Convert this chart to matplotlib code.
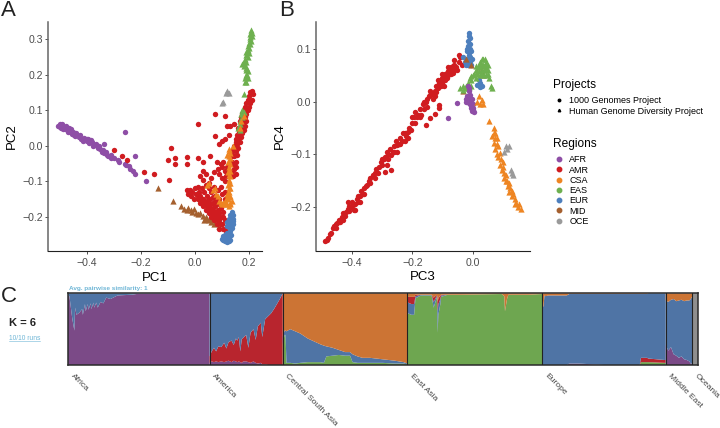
import numpy as np
import matplotlib
matplotlib.use("Agg")
import matplotlib.pyplot as plt
from matplotlib.lines import Line2D

plt.rcParams["font.family"] = ["Liberation Sans", "DejaVu Sans"]

# ---- panel A, PC1 / PC2
AFR_A = [(-.505,.055),(-.50,.062),(-.495,.05),(-.49,.06),(-.485,.052),(-.48,.047),(-.475,.055),(-.47,.04),
         (-.465,.05),(-.46,.04),(-.455,.033),(-.45,.04),(-.445,.028),(-.44,.035),(-.43,.025),(-.425,.03),
         (-.42,.018),(-.41,.022),(-.40,.012),(-.395,.02),(-.39,.008),(-.38,.01),(-.37,.002),(-.365,.005),
         (-.36,-.005),(-.35,-.01),(-.34,-.012),(-.335,-.02),(-.325,-.025),(-.32,-.03),(-.30,-.035),
         (-.285,-.04),(-.26,-.05),(-.255,-.055),(-.245,-.058),(-.24,-.065),(-.23,-.072),(-.22,-.08),
         (-.26,.04),(-.22,-.028),(-.18,-.10),(-.335,.005),(-.31,-.025),(-.28,-.045),(-.5,.052),(-.488,.048),
         (-.472,.048),(-.458,.048),(-.448,.03),(-.435,.03),(-.415,.012),(-.4,.02),(-.385,.015),(-.375,.0),
         (-.355,-.002),(-.345,-.018),(-.33,-.018),(-.31,-.035)]
AMR_A = [(.21,.155),(.205,.15),(.215,.145),(.2,.14),(.21,.13),(.195,.13),(.205,.12),(.19,.12),(.2,.11),
         (.185,.11),(.195,.10),(.18,.10),(.19,.09),(.175,.09),(.185,.08),(.17,.08),(.18,.07),(.19,.07),
         (.165,.07),(.175,.06),(.185,.055),(.17,.05),(.18,.045),(.16,.05),(.175,.035),(.165,.035),(.155,.03),
         (.17,.025),(.16,.02),(.15,.02),(.165,.01),(.155,.005),(.145,0),(.16,-.005),(.15,-.015),(.14,-.015),
         (.155,-.025),(.145,-.03),(.135,-.03),(.15,-.045),(.14,-.05),(.13,-.05),(.145,-.065),(.135,-.07),(.15,-.08),
         (.075,.088),(.11,.083),(.01,.062),(.12,.055),(.13,.055),(.145,.06),(.075,.028),(.125,.03),(.1,.012),
         (.09,.005),(.11,.018),(-.09,-.005),(-.1,-.04),(-.075,-.035),(-.075,-.052),(-.03,-.032),(-.03,-.052),
         (.01,-.035),(.03,-.045),(.055,-.03),(.08,-.047),(.095,-.05),(.105,-.045),(.1,-.06),(.085,-.065),
         (.12,-.06),(.11,-.07),(.03,-.07),(.04,-.08),(.02,-.085),(.07,-.075),(.09,-.08),(.1,-.09),(.06,-.09),
         (.11,-.1),(.03,-.095),(.05,-.105),(-.15,-.08),(-.19,-.075),(-.095,-.095),(-.3,-.012),(-.27,-.028),
         (-.25,-.04),(-.03,-.125),(-.02,-.125),(-.025,-.135),(-.01,-.13),(-.015,-.14),(0,-.12),(.005,-.135),
         (-.005,-.15),(.01,-.115),(.015,-.13),(.01,-.15),(.02,-.14),(.025,-.12),(.02,-.16),(.03,-.15),(.035,-.13),
         (.03,-.17),(.04,-.16),(.045,-.14),(.04,-.18),(.05,-.17),(.055,-.15),(.05,-.19),(.06,-.18),(.065,-.16),
         (.06,-.2),(.07,-.19),(.075,-.17),(.07,-.21),(.08,-.2),(.085,-.18),(.08,-.22),(.09,-.21),(.09,-.19),
         (.09,-.235),(.1,-.22),(.1,-.2),(.105,-.235),(.11,-.21),(.115,-.24),(.12,-.225),(.125,-.25),(.05,-.12),
         (.06,-.13),(.075,-.14),(.09,-.15),(.1,-.165),(.085,-.125),(.095,-.115),(.11,-.13),(.11,-.15),(.1,-.135),
         (.07,-.115),(.04,-.11),(.01,-.14),(.025,-.15),(.035,-.16),(.045,-.17),(.055,-.18),(.065,-.19),(.075,-.2),
         (.085,-.21),(.095,-.22),(.105,-.2),(.085,-.195),(.075,-.185),(.065,-.175),(.055,-.165),(.045,-.155),
         (.095,-.175),(.105,-.185),(.085,-.165),(.075,-.155),(.065,-.145),(.2,.125),(.19,.1),(.18,.085),(.17,.06),
         (.162,.04),(.152,.01),(.142,-.01),(.135,-.045),(.128,-.075),(.14,-.085),(.15,-.06),(.115,-.085)]
CSA_A = [(.125,-.01),(.13,-.02),(.12,-.025),(.128,-.035),(.122,-.045),(.13,-.05),(.125,-.06),(.13,-.07),
         (.122,-.075),(.128,-.085),(.125,-.095),(.13,-.105),(.122,-.11),(.128,-.12),(.125,-.13),(.118,-.135),
         (.13,-.14),(.122,-.15),(.128,-.16),(.118,-.165),(.11,-.155),(.1,-.165),(.105,-.16),(.09,-.155),(.085,-.14),
         (.075,-.12),(.065,-.125),(.05,-.105),(.045,-.11),(.14,.0),(.17,.07),(.165,.05),(.18,.085),(.125,-.015),
         (.125,-.03),(.125,-.042),(.125,-.068),(.125,-.082),(.125,-.105),(.125,-.118),(.125,-.145),(.125,-.17),
         (.112,-.165),(.12,-.145),(.13,-.165),(.135,-.155),(.095,-.16),(.078,-.135)]
EAS_A = [(.208,.32),(.205,.315),(.21,.31),(.205,.3),(.2,.29),(.205,.285),(.2,.275),(.195,.27),(.2,.26),
         (.19,.265),(.19,.255),(.185,.245),(.18,.235),(.175,.23),(.18,.225),(.19,.22),(.195,.21),(.19,.2),
         (.195,.19),(.19,.18),(.185,.19),(.18,.145),(.175,.1),(.17,.09),(.18,.095),(.165,.07),(.165,.045),(.16,.05),
         (.207,.325),(.212,.318),(.202,.305),(.208,.295),(.196,.28),(.195,.25),(.188,.235),(.183,.228),(.187,.212),
         (.192,.215),(.188,.195),(.193,.198),(.185,.18),(.172,.08),(.168,.06)]
EUR_A = [(.135,-.185),(.13,-.195),(.14,-.195),(.125,-.205),(.135,-.21),(.14,-.205),(.12,-.215),(.13,-.22),
         (.14,-.22),(.125,-.228),(.135,-.232),(.13,-.24),(.115,-.248),(.125,-.25),(.105,-.255),(.115,-.258),
         (.125,-.258),(.1,-.262),(.11,-.268),(.12,-.27),(.13,-.265),(.115,-.262),(.13,-.205),(.132,-.228),
         (.12,-.225),(.14,-.212),(.105,-.266),(.125,-.268),(.11,-.25),(.12,-.245),(.132,-.25)]
MID_A = [(-.135,-.12),(-.08,-.155),(-.05,-.17),(-.04,-.178),(-.025,-.175),(-.015,-.182),(-.005,-.178),(.005,-.19),
         (.02,-.19),(.03,-.198),(.04,-.2),(.035,-.208),(.05,-.21),(.06,-.215),(.07,-.22),(.09,-.225),(.055,-.205),
         (-.03,-.18),(-.01,-.185),(.012,-.192),(.045,-.206),(.065,-.21)]
OCE_A = [(.12,.155),(.115,.148),(.125,.148),(.1,.12),(.105,.122),(.12,.15)]

# ---- panel B, PC3 / PC4
AFR_B = [(-.015,.03),(-.012,.02),(-.01,.012),(-.018,.01),(-.008,.005),(-.015,.0),(-.005,.0),(-.01,-.005),
         (.0,-.005),(-.005,-.012),(.003,-.012),(-.002,-.018),(.004,-.02),(-.05,-.002),(-.08,-.032),(-.012,.026),
         (-.02,.005),(-.012,.008),(-.012,-.002),(-.002,.004),(-.006,-.008),(.002,-.016),(-.022,.0)]
AMR_B = [(-.49,-.265),(-.48,-.258),(-.47,-.25),(-.465,-.24),(-.455,-.24),(-.45,-.23),(-.44,-.228),(-.435,-.22),
         (-.425,-.218),(-.42,-.21),(-.41,-.208),(-.405,-.2),(-.4,-.19),(-.395,-.205),(-.39,-.195),(-.385,-.185),
         (-.38,-.19),(-.375,-.18),(-.37,-.17),(-.365,-.175),(-.36,-.165),(-.355,-.16),(-.345,-.15),(-.34,-.155),
         (-.33,-.14),(-.325,-.135),(-.315,-.135),(-.31,-.125),(-.3,-.12),(-.295,-.11),(-.285,-.12),(-.29,-.105),
         (-.28,-.1),(-.275,-.09),(-.265,-.095),(-.26,-.085),(-.255,-.075),(-.245,-.08),(-.24,-.07),(-.235,-.075),
         (-.225,-.06),(-.22,-.065),(-.225,-.075),(-.21,-.05),(-.2,-.04),(-.205,-.055),(-.195,-.03),(-.19,-.04),
         (-.18,-.025),(-.175,-.015),(-.17,-.025),(-.165,-.005),(-.16,-.015),(-.155,0),(-.15,.005),(-.145,.01),
         (-.135,.015),(-.13,.005),(-.125,.02),(-.12,.03),(-.115,.025),(-.11,.035),(-.105,.04),(-.1,.035),(-.095,.05),
         (-.09,.04),(-.085,.055),(-.08,.05),(-.075,.06),(-.07,.065),(-.065,.055),(-.06,.07),(-.055,.065),(-.045,.075),
         (-.04,.085),(-.035,.07),(-.27,-.13),(-.29,-.134),(-.25,-.095),(-.153,-.045),(-.125,-.023),(-.11,-.007),
         (-.11,-.013),(-.142,-.032),(-.485,-.262),(-.475,-.252),(-.46,-.236),(-.445,-.224),(-.43,-.212),(-.415,-.204),
         (-.41,-.198),(-.398,-.196),(-.38,-.18),(-.35,-.158),(-.32,-.128),(-.305,-.115),(-.27,-.102),(-.25,-.083),
         (-.215,-.058),(-.185,-.03),(-.14,.012),(-.12,.018),(-.105,.03),(-.09,.052),(-.1,.045),(-.08,.058),(-.065,.068),
         (-.455,-.232),(-.43,-.225),(-.415,-.19),(-.39,-.205),(-.375,-.19),(-.36,-.175),(-.34,-.145),(-.325,-.145),
         (-.3,-.11),(-.28,-.11),(-.285,-.095),(-.26,-.095),(-.24,-.08),(-.23,-.06),(-.215,-.07),(-.2,-.03),(-.19,-.02),
         (-.175,-.03),(-.16,0),(-.15,-.01),(-.14,.02),(-.125,.01),(-.115,.04),(-.095,.03),(-.1,.052),(-.085,.045),
         (-.08,.065),(-.07,.052),(-.06,.078),(-.05,.06),(-.045,.088),(-.06,.06)]
CSA_B = [(.055,-.037),(.07,-.05),(.075,-.06),(.065,-.065),(.08,-.07),(.07,-.078),(.085,-.085),(.075,-.09),
         (.09,-.098),(.08,-.1),(.095,-.11),(.09,-.12),(.1,-.125),(.105,-.135),(.11,-.14),(.115,-.15),(.12,-.155),
         (.125,-.165),(.13,-.17),(.13,-.18),(.14,-.185),(.145,-.192),(.15,-.2),(.16,-.203),(.015,.0),(.025,-.005),
         (.03,.002),(.02,.01),(.035,-.005),(.07,-.06),(.082,-.08),(.085,-.105),(.1,-.115),(.098,-.13),(.11,-.15),
         (.118,-.16),(.122,-.172),(.135,-.175),(.14,-.195),(.155,-.195),(.075,-.07),(.105,-.145)]
EAS_B = [(.03,.08),(.04,.08),(.045,.075),(.025,.075),(.035,.07),(.05,.07),(.04,.06),(.05,.06),(.02,.065),
         (.01,.06),(.03,.06),(.045,.05),(.0,.05),(.01,.045),(-.005,.04),(-.015,.035),(-.02,.03),(-.03,.03),
         (-.04,.025),(-.015,.025),(-.005,.03),(.06,.03),(.065,.025),(.055,.045),(.02,.07),(.035,.08),(.045,.065),
         (.03,.07),(.04,.068),(.015,.055),(.025,.05),(.005,.052),(-.01,.045),(-.025,.025),(.052,.052),(.01,.068),
         (.03,.052),(.038,.05),(.022,.058),(.012,.052),(-.005,.048),(-.012,.028),(-.03,.022)]
EUR_B = [(-.012,.13),(-.01,.12),(-.015,.115),(-.008,.11),(-.015,.105),(-.01,.1),(-.018,.095),(-.012,.088),
         (-.008,.085),(-.02,.08),(-.01,.075),(-.03,.085),(-.025,.075),(-.005,.07),(-.015,.07),(.02,.04),(.025,.035),
         (.015,.032),(.03,.03),(-.012,.125),(-.018,.1),(-.005,.095),(-.014,.08),(-.002,.08),(-.022,.07),(.025,.028)]
MID_B = [(-.03,.02),(-.005,.07),(.02,.065),(.03,.06),(.035,.05),(-.02,.08)]
OCE_B = [(.11,-.085),(.115,-.09),(.105,-.095),(.12,-.085),(.13,-.135),(.135,-.14),(.128,-.13)]

REGIONS = ["AFR", "AMR", "CSA", "EAS", "EUR", "MID", "OCE"]
COLORS = {"AFR": "#8e4ea6", "AMR": "#d01c20", "CSA": "#ee8522", "EAS": "#6eb04f",
          "EUR": "#4d7fbd", "MID": "#a5602f", "OCE": "#9a9a9a"}
MARKERS = {"AFR": "o", "AMR": "o", "CSA": "^", "EAS": "^", "EUR": "o", "MID": "^", "OCE": "^"}
SIZES = {"o": 15, "^": 20}
DRAW_A = [("OCE", OCE_A), ("MID", MID_A), ("AFR", AFR_A), ("AMR", AMR_A), ("EAS", EAS_A), ("EUR", EUR_A), ("CSA", CSA_A)]
DRAW_B = [("AMR", AMR_B), ("EUR", EUR_B), ("MID", MID_B), ("EAS", EAS_B), ("AFR", AFR_B), ("CSA", CSA_B), ("OCE", OCE_B)]

# ---- panel C, admixture proportions: each region has positions and layer thicknesses, bottom first
PURPLE, BLUE, RED, ORANGE, GREEN, GREY = "#7b4a87", "#4f74a5", "#b8252e", "#cc7434", "#6ea650", "#8f8f8f"
REGION_NAMES = ["Africa", "America", "Central South Asia", "East Asia", "Europe", "Middle East", "Oceania"]
REGION_SIZES = [920, 476, 810, 875, 804, 171, 37]

AFRICA_POS = [0,.01,.03,.045,.05,.06,.08,.1,.105,.12,.125,.14,.145,.16,.165,.18,.185,.2,.21,.23,.25,.27,.3,.35,.45,.5,1]
AFRICA_BLUE = [.03,.04,.35,.52,.2,.3,.27,.22,.3,.15,.25,.15,.23,.14,.22,.13,.2,.13,.2,.12,.14,.06,.08,.03,.02,.005,0]
AFRICA_LAYERS = [([1 - b for b in AFRICA_BLUE], PURPLE), (AFRICA_BLUE, BLUE)]

AMERICA_POS = [0,.03,.06,.09,.12,.16,.2,.23,.26,.3,.33,.36,.38,.4,.42,.44,.46,.5,.53,.56,.6,.63,.66,.7,.72,.76,.8,.84,.88,.92,.96,.99,1]
AMERICA_PURPLE = [.03,.05,.04,.05,.04,.05,.04,.05,.06,.04,.06,.05,.04,.05,.04,.03,.05,.05,.04,.03,.05,.03,.02,.03,.01,.01,0,0,0,0,0,0,0]
AMERICA_RED = [.09,.14,.2,.14,.22,.2,.27,.18,.26,.3,.22,.32,.3,.34,.15,.33,.33,.37,.2,.42,.45,.32,.52,.56,.38,.63,.68,.72,.78,.85,.92,.98,1]
AMERICA_BLUE = [1 - b - c for b, c in zip(AMERICA_PURPLE, AMERICA_RED)]
AMERICA_LAYERS = [(AMERICA_PURPLE, PURPLE), (AMERICA_RED, RED), (AMERICA_BLUE, BLUE)]

CSA_POS = [0,.015,.022,.03,.06,.1,.14,.2,.25,.3,.33,.35,.4,.45,.5,.54,.56,.6,.64,.7,.8,.9,.97,1]
CSA_GREEN = [.3,.42,.42,.03,.03,.02,.03,.04,.04,.04,.03,.12,.13,.14,.13,.13,.04,.03,.03,.03,.03,.02,.02,.01]
CSA_BLUE = [.1,.06,.06,.44,.47,.45,.41,.33,.29,.25,.24,.14,.11,.07,.05,.05,.11,.09,.07,.07,.05,.04,.02,.01]
CSA_ORANGE = [1 - a - b for a, b in zip(CSA_GREEN, CSA_BLUE)]
CSA_LAYERS = [(CSA_GREEN, GREEN), (CSA_BLUE, BLUE), (CSA_ORANGE, ORANGE)]

ASIA_POS = [0,.005,.03,.05,.06,.1,.18,.195,.22,.225,.23,.245,.25,.3,.4,.7,.72,.725,.74,.75,.9,1]
ASIA_GREEN = [.95,.72,.7,.7,.93,.97,.97,.8,.95,.45,.7,.85,.95,.98,.98,.99,.96,.75,.92,.98,.98,.99]
ASIA_BLUE = [.02,.15,.15,.15,.03,.01,.01,.08,.02,.3,.15,.07,.02,0,0,0,0,0,0,0,0,0]
ASIA_RED = [.01,.08,.1,.1,.02,0,0,.06,.01,.13,.08,.05,.01,0,0,0,0,0,0,0,0,0]
ASIA_TOP = [1 - a - b - c for a, b, c in zip(ASIA_GREEN, ASIA_BLUE, ASIA_RED)]
ASIA_LAYERS = [(ASIA_GREEN, GREEN), (ASIA_BLUE, BLUE), (ASIA_RED, RED), (ASIA_TOP, ORANGE)]

EUROPE_POS = [0,.012,.02,.03,.05,.2,.22,.25,.3,.5,.7,.79,.8,.85,.86,.99,1]
EUROPE_GREEN = [0,0,0,0,0,0,0,0,0,0,0,0,.04,.04,.04,.03,.03]
EUROPE_RED = [0,0,0,0,0,0,0,0,0,0,0,0,.06,.06,.05,.04,.04]
EUROPE_PURPLE = [0,0,0,0,0,0,.02,.02,.02,0,0,0,0,0,0,0,0]
EUROPE_ORANGE = [.2,.18,.03,.04,.03,.03,.01,.01,.01,.01,.01,.01,.01,.01,0,0,0]
EUROPE_BLUE = [1 - a - b - c - d for a, b, c, d in zip(EUROPE_GREEN, EUROPE_RED, EUROPE_PURPLE, EUROPE_ORANGE)]
EUROPE_LAYERS = [(EUROPE_GREEN, GREEN), (EUROPE_RED, RED), (EUROPE_PURPLE, PURPLE), (EUROPE_BLUE, BLUE), (EUROPE_ORANGE, ORANGE)]

MIDEAST_POS = [0,.1,.2,.3,.4,.5,.6,.7,.8,.9,.95,1]
MIDEAST_PURPLE = [.28,.2,.25,.15,.13,.1,.12,.08,.07,.05,.02,.02]
MIDEAST_ORANGE = [.1,.12,.09,.08,.11,.1,.09,.11,.1,.1,.08,.05]
MIDEAST_BLUE = [1 - a - b for a, b in zip(MIDEAST_PURPLE, MIDEAST_ORANGE)]
MIDEAST_LAYERS = [(MIDEAST_PURPLE, PURPLE), (MIDEAST_BLUE, BLUE), (MIDEAST_ORANGE, ORANGE)]

OCEANIA_POS = [0, 1]
OCEANIA_LAYERS = [([1, 1], GREY)]

STRUCTURE = [(AFRICA_POS, AFRICA_LAYERS), (AMERICA_POS, AMERICA_LAYERS), (CSA_POS, CSA_LAYERS), (ASIA_POS, ASIA_LAYERS),
             (EUROPE_POS, EUROPE_LAYERS), (MIDEAST_POS, MIDEAST_LAYERS), (OCEANIA_POS, OCEANIA_LAYERS)]

W, H = 720, 428


def px_axes(fig, left, top, right, bottom):
    return fig.add_axes([left / W, 1 - bottom / H, (right - left) / W, (bottom - top) / H])


def scatter_panel(ax, draw, xlim, ylim, xticks, yticks, xlabel, ylabel):
    for region, pts in draw:
        pts = np.array(pts)
        marker = MARKERS[region]
        ax.scatter(pts[:, 0], pts[:, 1], s=SIZES[marker], color=COLORS[region], marker=marker, linewidths=0, zorder=3)
    ax.set_xlim(xlim)
    ax.set_ylim(ylim)
    ax.set_xticks(xticks)
    ax.set_yticks(yticks)
    ax.xaxis.set_major_formatter(lambda v, p: f"{v:.1f}".replace("-", "\u2212"))
    ax.yaxis.set_major_formatter(lambda v, p: f"{v:.1f}".replace("-", "\u2212"))
    ax.spines[["top", "right"]].set_visible(False)
    ax.spines["left"].set_linewidth(1.1)
    ax.spines["left"].set_color("#666666")
    ax.spines["bottom"].set_linewidth(0.8)
    ax.spines["bottom"].set_color("#222222")
    ax.tick_params(labelsize=7.6, labelcolor="#4d4d4d", length=2.2, width=0.6, color="#333333")
    ax.tick_params(axis="x", pad=3)
    ax.tick_params(axis="y", pad=1.5)
    ax.set_xlabel(xlabel, fontsize=9.5, labelpad=2.5)
    ax.set_ylabel(ylabel, fontsize=9.5, labelpad=3)


fig = plt.figure(figsize=(W / 100, H / 100), dpi=100)

ax_a = px_axes(fig, 48, 22, 262, 251)
scatter_panel(ax_a, DRAW_A, (-.543, .2476), (-.296, .348), [-.4, -.2, 0, .2], [-.2, -.1, 0, .1, .2, .3], "PC1", "PC2")
ax_b = px_axes(fig, 316, 22, 530, 250.7)
scatter_panel(ax_b, DRAW_B, (-.52, .191), (-.283, .1508), [-.4, -.2, 0], [-.2, -.1, 0, .1], "PC3", "PC4")

# legends
legend_style = dict(loc="upper left", frameon=False, fontsize=6.5, title_fontsize=8.6, alignment="left", labelspacing=0.14,
                    handletextpad=0.45, handlelength=1.4, borderpad=0.3, borderaxespad=0)
project_handles = [Line2D([], [], ls="", marker="o", ms=1.8, color="black"),
                   Line2D([], [], ls="", marker="^", ms=1.8, color="black")]
leg1 = fig.legend(project_handles, ["1000 Genomes Project", "Human Genome Diversity Project"], title="Projects",
                  bbox_to_anchor=(550 / W, 1 - 76 / H), **legend_style)
region_handles = [Line2D([], [], ls="", marker="o", ms=3.2, color=COLORS[r]) for r in REGIONS]
leg2 = fig.legend(region_handles, REGIONS, title="Regions", bbox_to_anchor=(550 / W, 1 - 135 / H), **legend_style)
for leg in (leg1, leg2):
    leg._legend_box.sep = 4

# structure plot
ax_c = px_axes(fig, 68, 293.3, 697.7, 365)
starts = np.concatenate([[0], np.cumsum(REGION_SIZES)])
for start, size, (pos, layers) in zip(starts, REGION_SIZES, STRUCTURE):
    x = start + np.array(pos) * size
    ax_c.stackplot(x, *[layer for layer, _ in layers], colors=[c for _, c in layers], linewidth=0)
for start in starts[1:-1]:
    ax_c.axvline(start, color="#222222", lw=0.8, zorder=4)
ax_c.set_xlim(0, starts[-1])
ax_c.set_ylim(0, 1)
ax_c.set_yticks([])
ax_c.set_xticks(starts[:-1] + 24)
ax_c.set_xticklabels(REGION_NAMES, rotation=-45, ha="left", va="center", rotation_mode="anchor", fontsize=6.1, color="#444444")
ax_c.tick_params(axis="x", length=0, pad=7)
for s in ax_c.spines.values():
    s.set_linewidth(1.1)
    s.set_color("#2a2a2a")

fig.text(69 / W, 1 - 288.5 / H, "Avg. pairwise similarity: 1", fontsize=4.6, fontweight="bold", color="#6fb6d6", va="center")
fig.text(9 / W, 1 - 322.5 / H, "K = 6", fontsize=8, fontweight="bold", color="#222222", va="center")
fig.text(9 / W, 1 - 338.5 / H, "10/10 runs", fontsize=4.8, color="#6fb6d6", va="center")
fig.add_artist(Line2D([9 / W, 40 / W], [1 - 341 / H, 1 - 341 / H], color="#6fb6d6", lw=0.4))

for letter, x, y in [("A", 1, 10.5), ("B", 279, 10.5), ("C", 1, 296.5)]:
    fig.text(x / W, 1 - y / H, letter, fontsize=16, color="#222222", va="center")

fig.savefig("out.png", dpi=100)
